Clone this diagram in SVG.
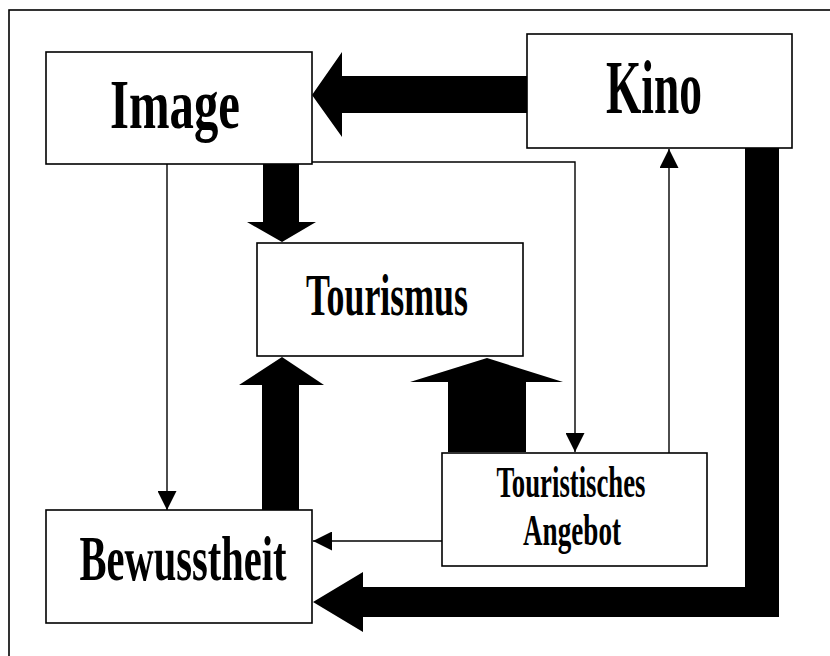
<svg xmlns="http://www.w3.org/2000/svg" width="830" height="656" viewBox="0 0 830 656">
<defs>
<style>
.box{fill:#fff;stroke:#000;stroke-width:1.6}
.lbl{font-family:"Liberation Serif","Times New Roman",serif;font-weight:bold;fill:#000;text-anchor:middle}
.thin{fill:none;stroke:#000;stroke-width:1.4}
.thick{fill:#000;stroke:none}
</style>
<marker id="ah" markerWidth="20" markerHeight="19" refX="19" refY="9.5" orient="auto" markerUnits="userSpaceOnUse">
<path d="M0,0 L19,9.5 L0,19 Z" fill="#000"/>
</marker>
</defs>
<rect x="0" y="0" width="830" height="656" fill="#fff"/>
<rect x="9" y="10" width="840" height="670" fill="none" stroke="#000" stroke-width="1.6"/>
<g id="connectors">
<path class="thick" d="M527,76 L342,76 L342,52 L312,95 L342,137 L342,113 L527,113 Z"/>
<path class="thick" d="M263,164 L299,164 L299,222 L316,222 L282,242 L247,222 L263,222 Z"/>
<path class="thick" d="M262,510 L262,385 L239,385 L282,357 L324,385 L299,385 L299,510 Z"/>
<path class="thick" d="M448,452 L448,382 L410,382 L487,358 L563,382 L526,382 L526,452 Z"/>
<path class="thick" d="M745,148 L779,148 L779,617 L363,617 L363,632 L313,602 L363,572 L363,587 L745,587 Z"/>
<path class="thin" d="M167,164 L167,510" marker-end="url(#ah)"/>
<path class="thin" d="M312,162 L575,162 L575,452" marker-end="url(#ah)"/>
<path class="thin" d="M669,453 L669,149" marker-end="url(#ah)"/>
<path class="thin" d="M442,541 L313,541" marker-end="url(#ah)"/>
</g>
<g id="node-image">
<rect class="box" x="46" y="52" width="266" height="112"/>
<text class="lbl" x="175" y="128" font-size="70" textLength="130" lengthAdjust="spacingAndGlyphs">Image</text>
</g>
<g id="node-kino">
<rect class="box" x="527" y="34" width="265" height="114"/>
<text class="lbl" x="654" y="113" font-size="76" textLength="96" lengthAdjust="spacingAndGlyphs">Kino</text>
</g>
<g id="node-tourismus">
<rect class="box" x="257" y="243" width="266" height="113"/>
<text class="lbl" x="387" y="315" font-size="59" textLength="162" lengthAdjust="spacingAndGlyphs">Tourismus</text>
</g>
<g id="node-bewusstheit">
<rect class="box" x="46" y="510" width="266" height="113"/>
<text class="lbl" x="183" y="580" font-size="64" textLength="207" lengthAdjust="spacingAndGlyphs">Bewusstheit</text>
</g>
<g id="node-angebot">
<rect class="box" x="442" y="453" width="265" height="113"/>
<text class="lbl" x="571" y="497" font-size="45" textLength="149" lengthAdjust="spacingAndGlyphs">Touristisches</text>
<text class="lbl" x="572" y="545" font-size="45" textLength="98" lengthAdjust="spacingAndGlyphs">Angebot</text>
</g>
</svg>
